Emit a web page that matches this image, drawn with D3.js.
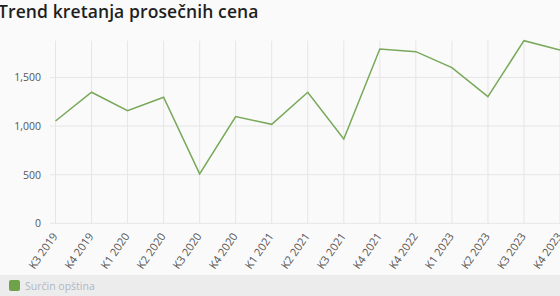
<!DOCTYPE html>
<html>
<head>
<meta charset="utf-8">
<script src="https://cdn.jsdelivr.net/npm/d3@7"></script>
<style>
  body { margin: 0; background: #fafafa; overflow: hidden; }
  text { font-family: "Open Sans", sans-serif; }
</style>
</head>
<body>
<script>
const w = 560;
const h = 296;

// Data

const quarters = ["K3 2019", "K4 2019", "K1 2020", "K2 2020", "K3 2020", "K4 2020", "K1 2021", "K2 2021",
  "K3 2021", "K4 2021", "K4 2022", "K1 2023", "K2 2023", "K3 2023", "K4 2023"];
const prices = [1052, 1348, 1158, 1296, 508, 1097, 1018, 1348, 867, 1793, 1765, 1601, 1302, 1878, 1783];
const yTicks = [0, 500, 1000, 1500];
const seriesName = "Surčin opština";

// SVG

const svg = d3.select("body").append("svg").attr("width", w).attr("height", h);

svg.append("rect").attr("width", w).attr("height", h).attr("fill", "#fafafa");

// Title

svg.append("text")
  .attr("x", -2)
  .attr("y", 18)
  .attr("font-size", 17.5)
  .attr("font-weight", 600)
  .attr("letter-spacing", 0.1)
  .attr("fill", "#1f1f1f")
  .text("Trend kretanja prosečnih cena");

// Scales

const x = d3.scalePoint().domain(quarters).range([55.5, 560]);
const y = d3.scaleLinear().domain([0, d3.max(prices)]).range([223.3, 40.7]);

// Grid

svg.append("g")
  .selectAll("line")
  .data(yTicks)
  .join("line")
  .attr("x1", 50)
  .attr("x2", w)
  .attr("y1", (d) => y(d))
  .attr("y2", (d) => y(d))
  .attr("stroke", "#e6e6e6")
  .attr("stroke-width", 1);

svg.append("g")
  .selectAll("line")
  .data(quarters)
  .join("line")
  .attr("x1", (d) => x(d))
  .attr("x2", (d) => x(d))
  .attr("y1", y.range()[1])
  .attr("y2", y(0))
  .attr("stroke", "#e6e6e6")
  .attr("stroke-width", 1);

// Y Axis

const yAxis = svg.append("g")
  .attr("transform", "translate(41,0)")
  .call(d3.axisLeft(y).tickValues(yTicks).tickSize(0).tickPadding(0).tickFormat(d3.format(",")));
yAxis.select(".domain").remove();
yAxis.selectAll("text").attr("font-size", 10.5).attr("fill", "#555").attr("font-family", "Open Sans, sans-serif");

// X Axis

const xAxis = svg.append("g")
  .attr("transform", `translate(0,${y(0)})`)
  .call(d3.axisBottom(x).tickSize(0).tickPadding(0));
xAxis.select(".domain").remove();
xAxis.selectAll("text")
  .attr("font-size", 11)
  .attr("fill", "#555")
  .attr("font-family", "Open Sans, sans-serif")
  .attr("text-anchor", "end")
  .attr("dy", null)
  .attr("y", 0)
  .attr("transform", "translate(2,13) rotate(-55)");

// Line

const line = d3.line()
  .x((d, i) => x(quarters[i]))
  .y((d) => y(d));

svg.append("path")
  .datum(prices)
  .attr("d", line)
  .attr("fill", "none")
  .attr("stroke", "#78a85a")
  .attr("stroke-width", 1.5);

// Legend

svg.append("rect").attr("x", 0).attr("y", 275).attr("width", w).attr("height", h - 275).attr("fill", "#ececec");
svg.append("rect")
  .attr("x", 9).attr("y", 280).attr("width", 11).attr("height", 11).attr("rx", 2)
  .attr("fill", "#6fa24a");
svg.append("text")
  .attr("x", 25).attr("y", 289.5)
  .attr("font-size", 10.5)
  .attr("fill", "#b0b6c6")
  .text(seriesName);
</script>
</body>
</html>
